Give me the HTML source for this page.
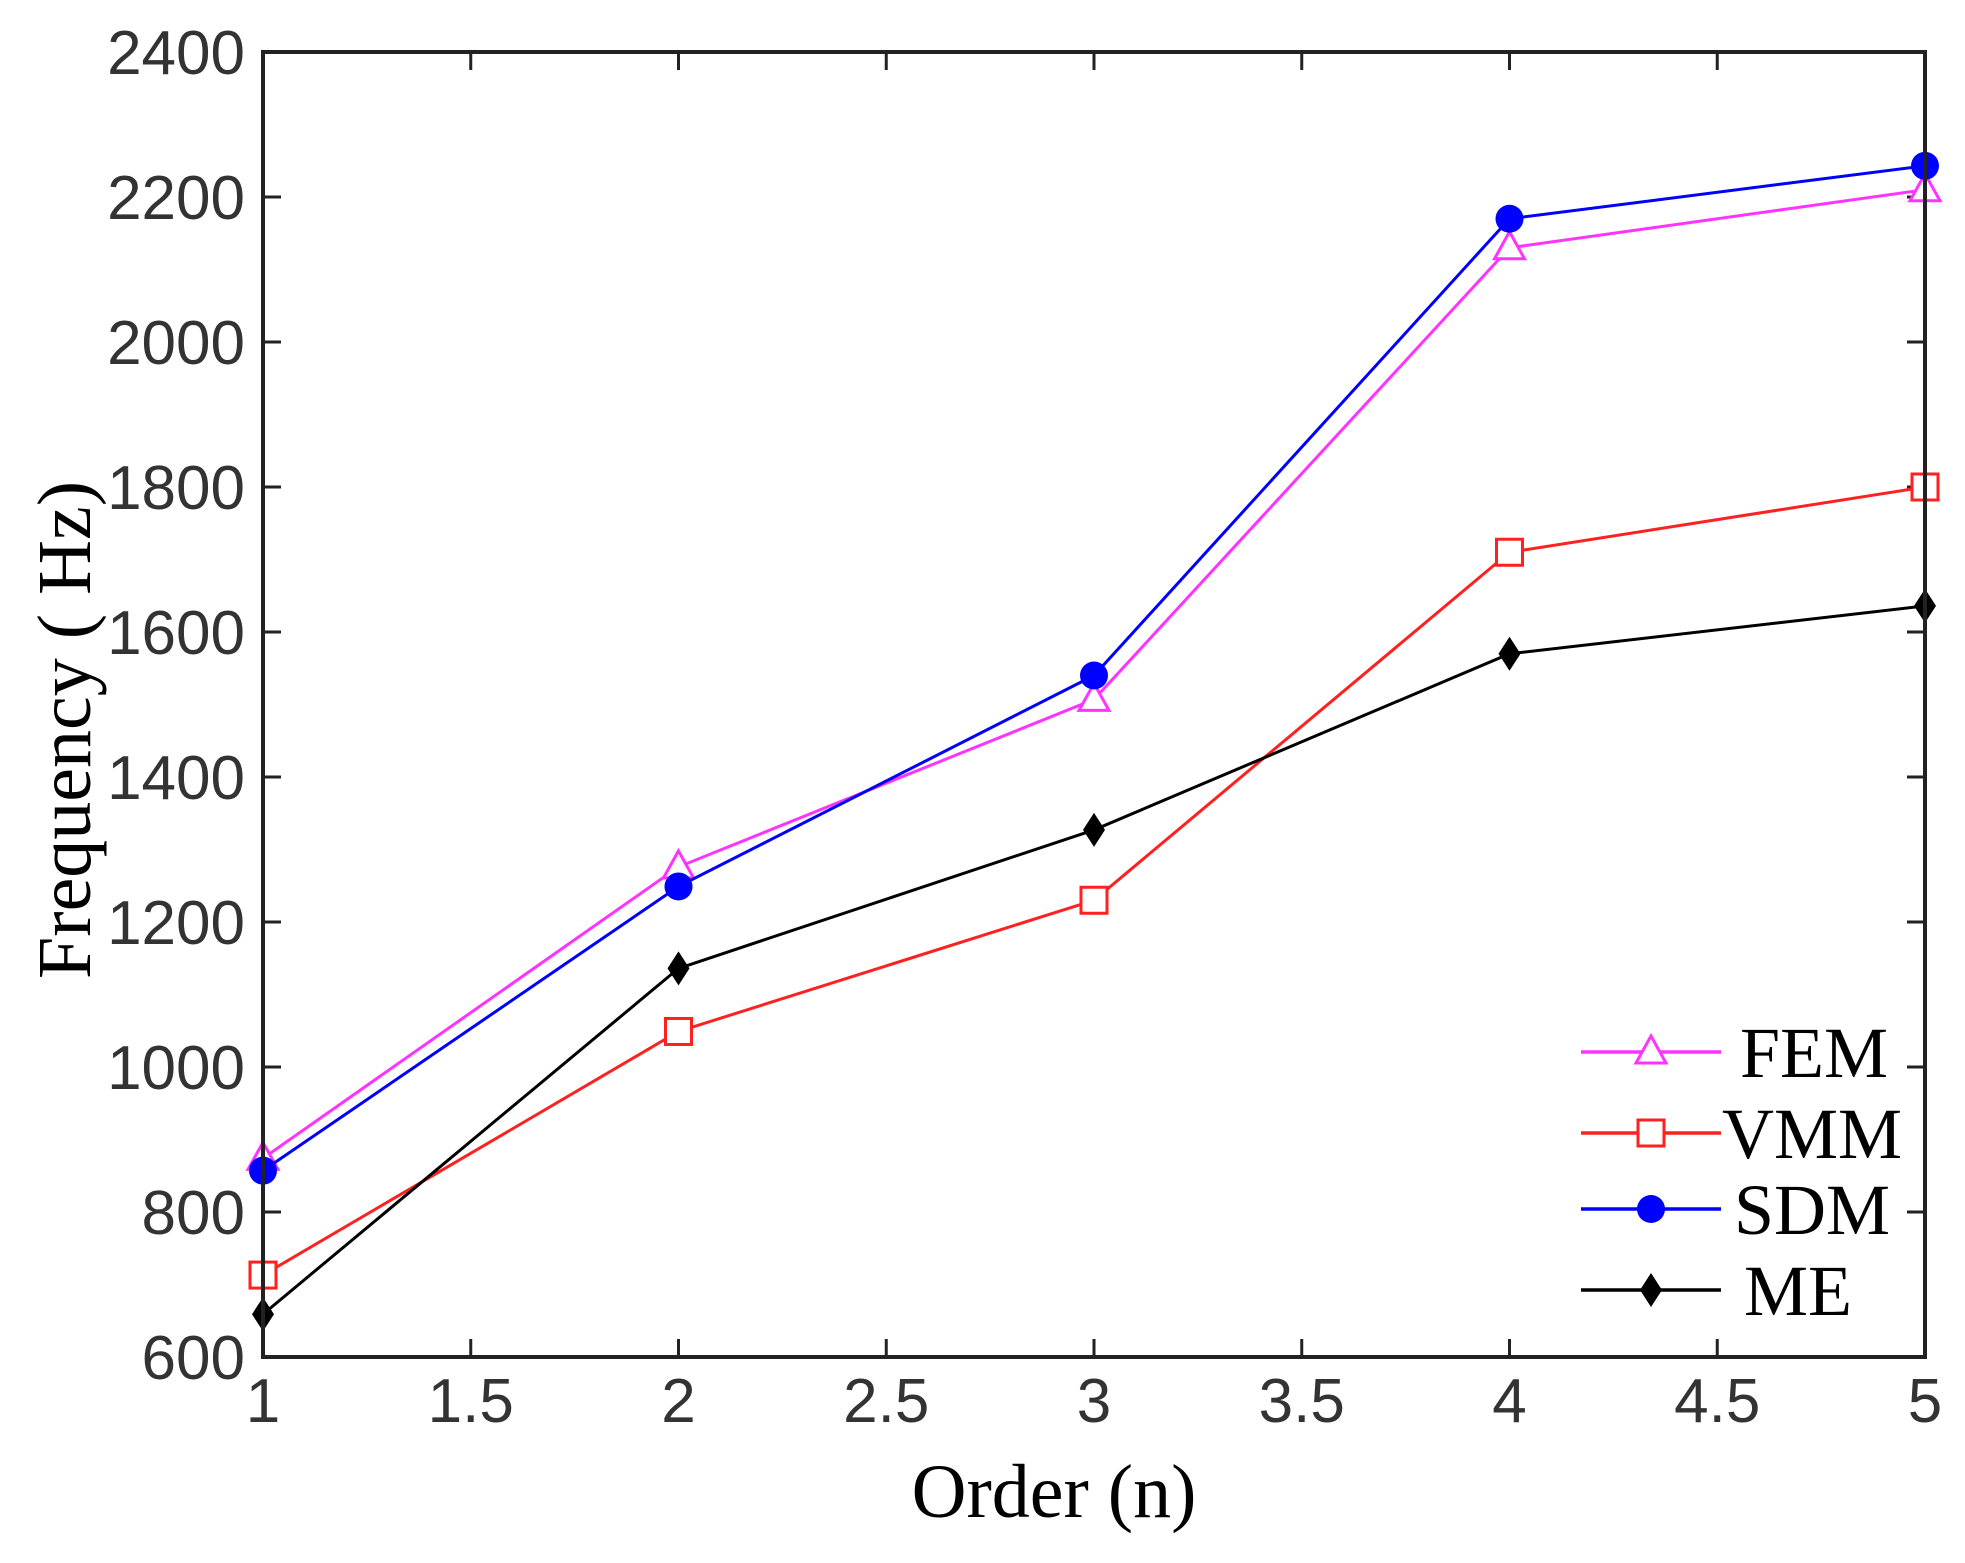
<!DOCTYPE html>
<html><head><meta charset="utf-8"><style>
html,body{margin:0;padding:0;background:#fff;}
svg{display:block;}
.tk{font-family:"Liberation Sans",sans-serif;font-size:62px;fill:#333;}
.lg{font-family:"Liberation Serif",serif;font-size:72px;fill:#000;}
.ti{font-family:"Liberation Serif",serif;font-size:76px;fill:#000;}
</style></head><body>
<svg id="chart" width="1965" height="1563" viewBox="0 0 1965 1563" xmlns="http://www.w3.org/2000/svg">
<g id="grid"></g>
<g id="series"></g>
<rect x="263" y="52" width="1662" height="1305" fill="none" stroke="#222" stroke-width="4"/>
<text class="ti" x="1054" y="1517" text-anchor="middle">Order (n)</text>
<text class="ti" transform="translate(90,730) rotate(-90)" text-anchor="middle">Frequency ( Hz)</text>
<g id="legend"></g>
</svg>
<script>
const orders=[1,2,3,4,5];
const fem=[874,1276,1507,2130,2210];
const vmm=[713,1049,1230,1710,1800];
const sdm=[857,1249,1540,2170,2243];
const me=[659,1136,1327,1570,1636];
const xTicks=[1,1.5,2,2.5,3,3.5,4,4.5,5];
const xTickLabels=["1","1.5","2","2.5","3","3.5","4","4.5","5"];
const yTicks=[600,800,1000,1200,1400,1600,1800,2000,2200,2400];
const yTickLabels=["600","800","1000","1200","1400","1600","1800","2000","2200","2400"];
const seriesNames=["FEM","VMM","SDM","ME"];

const NS="http://www.w3.org/2000/svg";
const L=263,R=1925,T=52,B=1357;
const xs=v=>L+(v-1)/4*(R-L);
const ys=v=>B-(v-600)/1800*(B-T);
function mk(tag,attrs,parent){const e=document.createElementNS(NS,tag);for(const k in attrs)e.setAttribute(k,attrs[k]);parent.appendChild(e);return e;}
const grid=document.getElementById('grid');
xTicks.forEach((t,i)=>{
  const x=xs(t);
  const a=mk('line',{x1:x,x2:x,y1:B,y2:B-18,stroke:'#222','stroke-width':3},grid);
  
  const b=mk('line',{x1:x,x2:x,y1:T,y2:T+18,stroke:'#222','stroke-width':3},grid);
  
  const tx=mk('text',{x:x,y:1422,'text-anchor':'middle',class:'tk'},grid);
  tx.textContent=xTickLabels[i];
  
});
yTicks.forEach((t,i)=>{
  const y=ys(t);
  const a=mk('line',{x1:L,x2:L+18,y1:y,y2:y,stroke:'#222','stroke-width':3},grid);
  
  const b=mk('line',{x1:R,x2:R-18,y1:y,y2:y,stroke:'#222','stroke-width':3},grid);
  
  const tx=mk('text',{x:245,y:y+22,'text-anchor':'end',class:'tk'},grid);
  tx.textContent=yTickLabels[i];
  
});
function marker(type,x,y,color,parent){
  let e;
  if(type==='tri') e=mk('polygon',{points:`${x},${y-16} ${x-15},${y+11} ${x+15},${y+11}`,fill:'#fff',stroke:color,'stroke-width':3},parent);
  else if(type==='sq') e=mk('rect',{x:x-13,y:y-13,width:26,height:26,fill:'#fff',stroke:color,'stroke-width':3},parent);
  else if(type==='circ') e=mk('circle',{cx:x,cy:y,r:14,fill:color},parent);
  else e=mk('polygon',{points:`${x},${y-17} ${x+11},${y} ${x},${y+17} ${x-11},${y}`,fill:color},parent);
  return e;
}
const defs=[
  {name:'fem',data:fem,color:'#ff33ff',m:'tri'},
  {name:'vmm',data:vmm,color:'#ff2020',m:'sq'},
  {name:'sdm',data:sdm,color:'#0000ff',m:'circ'},
  {name:'me',data:me,color:'#000000',m:'dia'}];
const sg=document.getElementById('series');
defs.forEach(d=>{
  const g=mk('g',{},sg);
  
  const pts=d.data.map((v,i)=>xs(orders[i])+','+ys(v)).join(' ');
  const pl=mk('polyline',{points:pts,fill:'none',stroke:d.color,'stroke-width':3},g);
  
  d.data.forEach((v,i)=>{
    const m=marker(d.m,xs(orders[i]),ys(v),d.color,g);
    
  });
});
const lg=document.getElementById('legend');
const ly=[1052,1133,1209,1290];
defs.forEach((d,i)=>{
  const g=mk('g',{},lg);
  
  mk('line',{x1:1581,x2:1721,y1:ly[i],y2:ly[i],stroke:d.color,'stroke-width':3.5},g);
  marker(d.m,1651,ly[i],d.color,g);
  const t=mk('text',{x:[1740,1722,1734,1744][i],y:ly[i]+25,class:'lg'},g);
  t.textContent=seriesNames[i];
});
</script>
</body></html>
